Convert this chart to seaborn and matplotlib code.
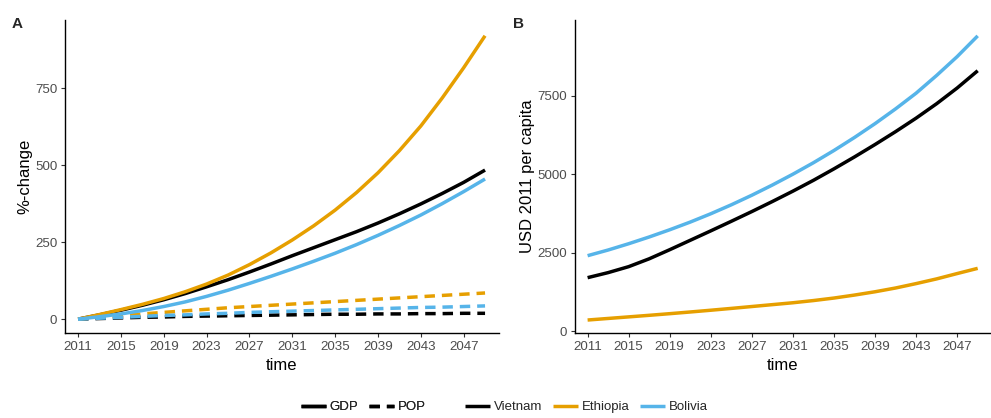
import numpy as np
import pandas as pd
import matplotlib
matplotlib.use("Agg")
import matplotlib.pyplot as plt
import seaborn as sns
from matplotlib.lines import Line2D

years = [2011, 2013, 2015, 2017, 2019, 2021, 2023, 2025, 2027, 2029,
         2031, 2033, 2035, 2037, 2039, 2041, 2043, 2045, 2047, 2049]
countries = ["Vietnam", "Ethiopia", "Bolivia"]

# Panel A: %-change since 2011
gdp_vietnam = [0, 14, 29, 45, 63, 83, 105, 128, 153, 179,
               206, 232, 258, 284, 312, 342, 374, 408, 444, 484]
gdp_ethiopia = [0, 15, 31, 48, 67, 89, 114, 143, 177, 215,
                257, 303, 354, 411, 475, 547, 627, 718, 816, 920]
gdp_bolivia = [0, 8, 17, 28, 41, 56, 74, 94, 116, 139,
               163, 188, 214, 242, 272, 304, 338, 375, 414, 455]
pop_vietnam = [0, 2, 4, 6, 7, 9, 10, 11, 12, 13,
               14, 15, 16, 16, 17, 17, 18, 18, 19, 19]
pop_ethiopia = [0, 6, 11, 17, 22, 27, 32, 37, 41, 45,
                49, 53, 57, 61, 65, 69, 73, 77, 81, 85]
pop_bolivia = [0, 3, 6, 9, 12, 14, 17, 19, 22, 24,
               26, 28, 30, 32, 34, 36, 38, 39, 41, 43]

# Panel B: USD 2011 per capita
usd_vietnam = [1699, 1860, 2050, 2300, 2590, 2890, 3190, 3495, 3805, 4125,
               4455, 4800, 5165, 5545, 5940, 6350, 6780, 7240, 7740, 8290]
usd_ethiopia = [350, 400, 450, 500, 552, 606, 662, 720, 780, 840,
                900, 970, 1050, 1145, 1250, 1370, 1510, 1660, 1830, 1996]
usd_bolivia = [2399, 2580, 2780, 2995, 3225, 3470, 3735, 4020, 4325, 4650,
               4995, 5360, 5750, 6165, 6605, 7075, 7575, 8140, 8740, 9400]

colors = {"Vietnam": "#000000", "Ethiopia": "#E69F00", "Bolivia": "#56B4E9"}

rows = []
for c, g, p in [("Vietnam", gdp_vietnam, pop_vietnam),
                ("Ethiopia", gdp_ethiopia, pop_ethiopia),
                ("Bolivia", gdp_bolivia, pop_bolivia)]:
    for y, gv, pv in zip(years, g, p):
        rows.append({"time": y, "value": gv, "country": c, "var": "GDP"})
        rows.append({"time": y, "value": pv, "country": c, "var": "POP"})
dfA = pd.DataFrame(rows)

rowsB = []
for c, u in [("Vietnam", usd_vietnam), ("Ethiopia", usd_ethiopia), ("Bolivia", usd_bolivia)]:
    for y, v in zip(years, u):
        rowsB.append({"time": y, "value": v, "country": c})
dfB = pd.DataFrame(rowsB)

sns.set_theme(style="ticks")
plt.rcParams["font.family"] = ["Liberation Sans", "DejaVu Sans"]

fig = plt.figure(figsize=(9.91, 4.18), dpi=100)
axA = fig.add_axes([0.0656, 0.2033, 0.4379, 0.7487])
axB = fig.add_axes([0.5802, 0.2033, 0.4188, 0.7487])

LW = 2.5
sns.lineplot(data=dfA, x="time", y="value", hue="country", style="var",
             palette=colors, hue_order=countries,
             dashes={"GDP": "", "POP": (3, 2)}, linewidth=LW, ax=axA, legend=False,
             solid_capstyle="butt", dash_capstyle="butt")
sns.lineplot(data=dfB, x="time", y="value", hue="country", palette=colors,
             hue_order=countries, linewidth=LW, ax=axB, legend=False,
             solid_capstyle="butt")

ticks_x = list(range(2011, 2050, 4))
for ax in (axA, axB):
    ax.set_xticks(ticks_x)
    ax.set_xticklabels([str(t) for t in ticks_x])
    for s in ("top", "right"):
        ax.spines[s].set_visible(False)
    for s in ("left", "bottom"):
        ax.spines[s].set_color("black")
        ax.spines[s].set_linewidth(1.0)
    ax.tick_params(axis="both", direction="out", length=3, width=0.8,
                   color="#333333", labelcolor="#4D4D4D", labelsize=9.6, pad=2.5)
    ax.set_xlabel("time", fontsize=12, color="black", labelpad=4)
    ax.grid(False)

axA.set_xlim(2009.78, 2050.3)
axA.set_ylim(-45, 971)
axA.set_yticks([0, 250, 500, 750])
axA.set_ylabel("%-change", fontsize=12, color="black", labelpad=2)

axB.set_xlim(2009.77, 2050.2)
axB.set_ylim(-64, 9904)
axB.set_yticks([0, 2500, 5000, 7500])
axB.set_ylabel("USD 2011 per capita", fontsize=12, color="black", labelpad=2)

fig.text(0.012, 0.942, "A", fontsize=11, fontweight="bold", va="center", ha="left")
fig.text(0.518, 0.942, "B", fontsize=11, fontweight="bold", va="center", ha="left")

h1 = [Line2D([], [], color="black", lw=LW, ls="-", solid_capstyle="butt"),
      Line2D([], [], color="black", lw=LW, ls=(0, (3, 2)), dash_capstyle="butt")]
leg1 = fig.legend(h1, ["GDP", "POP"], loc="center", bbox_to_anchor=(0.3668, 0.026),
                  ncol=2, frameon=False, fontsize=9.5, handlelength=1.9,
                  handletextpad=0.3, columnspacing=0.8, borderpad=0)
h2 = [Line2D([], [], color=colors[c], lw=LW, solid_capstyle="butt") for c in countries]
leg2 = fig.legend(h2, countries, loc="center", bbox_to_anchor=(0.5918, 0.026),
                  ncol=3, frameon=False, fontsize=9.5, handlelength=1.9,
                  handletextpad=0.3, columnspacing=0.8, borderpad=0)
fig.add_artist(leg1)

fig.savefig("out.png", dpi=100)
